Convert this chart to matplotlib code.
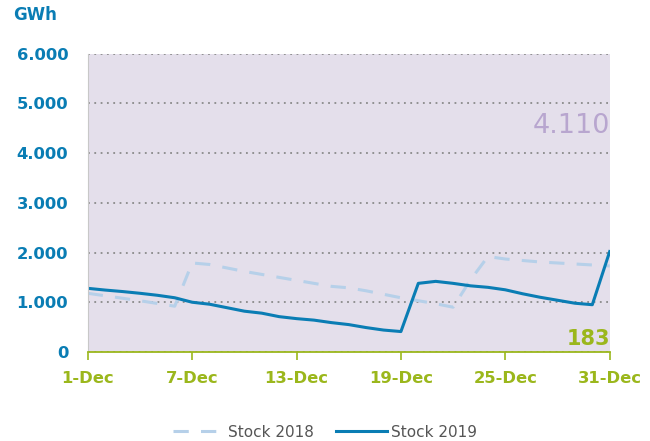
import matplotlib.pyplot as plt
from matplotlib.ticker import FuncFormatter

days = list(range(1, 32))
stock_2018 = [1180, 1130, 1080, 1030, 975, 920, 1790, 1760, 1690, 1620,
              1560, 1500, 1440, 1380, 1320, 1290, 1230, 1160, 1090, 1030,
              970, 900, 1450, 1920, 1870, 1840, 1810, 1790, 1770, 1750, 1730]
stock_2019 = [1280, 1245, 1215, 1180, 1140, 1090, 1000, 960, 890, 820,
              780, 710, 670, 640, 590, 550, 490, 440, 410, 1380,
              1420, 1380, 1330, 1300, 1250, 1170, 1100, 1040, 980, 950, 2020]
tick_days = [1, 7, 13, 19, 25, 31]
capacity_label = '4.110'
last_value_label = '183'

blue = '#0a7db4'
green = '#9bb71c'

fig = plt.figure(figsize=(6.5, 4.41), dpi=100)
ax = fig.add_axes([0.135, 0.202, 0.803, 0.676])
ax.set_facecolor('#e4dfeb')

ax.plot(days, stock_2018, color='#b6d0e9', lw=2.2, dashes=(5, 4), label='Stock 2018')
ax.plot(days, stock_2019, color=blue, lw=2.2, label='Stock 2019')

ax.set_xlim(1, 31)
ax.set_ylim(0, 6000)
ax.set_yticks(range(0, 6001, 1000))
ax.yaxis.set_major_formatter(FuncFormatter(lambda v, p: f'{int(v):,}'.replace(',', '.')))
ax.set_xticks(tick_days)
ax.set_xticklabels([f'{d}-Dec' for d in tick_days])
ax.grid(axis='y', color='#8a8a8a', linestyle=(0, (1, 2.5)), lw=1.3)
ax.set_axisbelow(True)

for s in ['top', 'right']:
    ax.spines[s].set_visible(False)
ax.spines['left'].set_color('#c8c8c8')
ax.spines['bottom'].set_color(green)
ax.spines['bottom'].set_linewidth(1.3)

ax.tick_params(axis='y', length=0, pad=14, labelsize=11.8, labelcolor=blue)
ax.tick_params(axis='x', length=6, width=1.2, color=green, pad=8,
               labelsize=11.8, labelcolor=green)
for lab in ax.get_xticklabels() + ax.get_yticklabels():
    lab.set_fontweight('bold')

ax.text(31, 4550, capacity_label, color='#b8a6cf', fontsize=19.5, ha='right', va='center')
ax.text(31, 250, last_value_label, color=green, fontsize=15, fontweight='bold',
        ha='right', va='center')

fig.text(0.02, 0.965, 'GWh', color=blue, fontsize=12, fontweight='bold', va='center')

fig.legend(loc='center', bbox_to_anchor=(0.5, 0.02), ncol=2, frameon=False,
           fontsize=11, labelcolor='#555555', handlelength=3.3, columnspacing=1.5,
           handletextpad=0.3)

fig.savefig('out.png', dpi=100)
